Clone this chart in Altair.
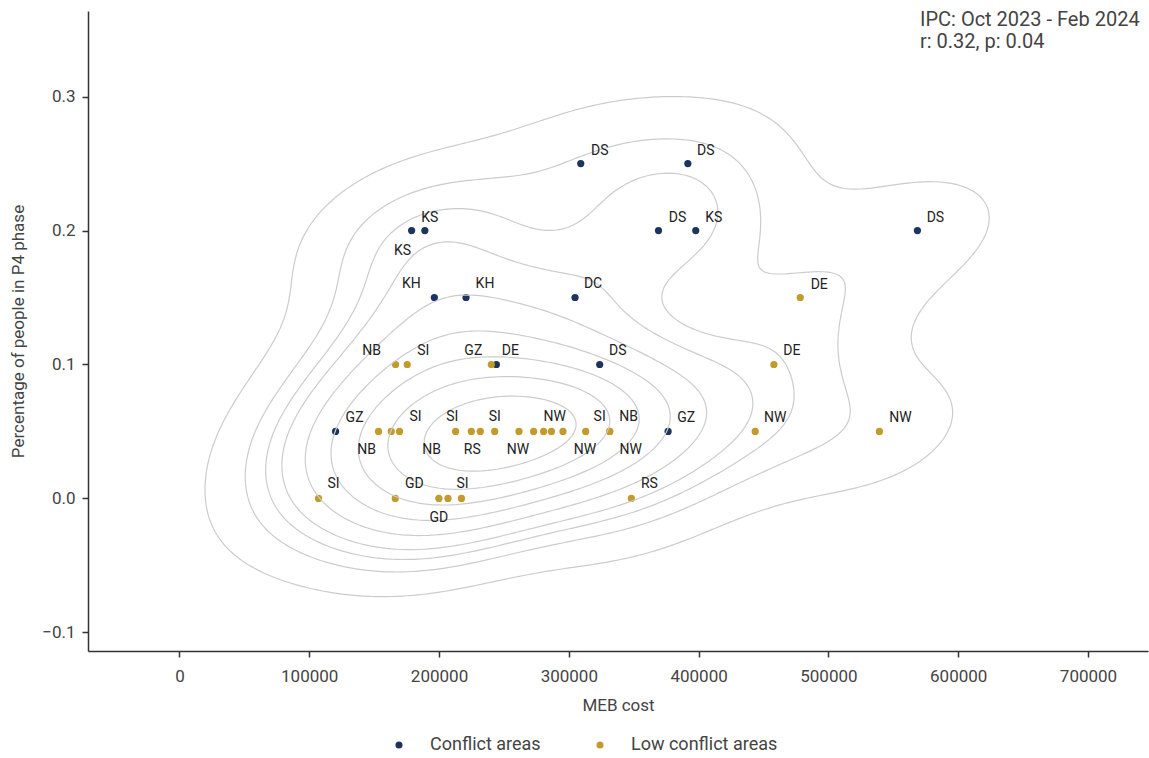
import numpy as np
import pandas as pd
import altair as alt

NAVY = "#1c355e"
GOLD = "#c29b2c"
FONT = "Roboto"

# ---- data: conflict areas -------------------------------------------------
conflict_region = ["DS", "DS", "KS", "KS", "DS", "KS", "DS",
                   "KH", "KH", "DC", "DE", "DS", "GZ", "GZ"]
conflict_meb = [309200, 391700, 178900, 189100, 369100, 397800, 568600,
                196400, 220800, 304800, 244200, 323800, 120300, 376500]
conflict_p4 = [0.25, 0.25, 0.20, 0.20, 0.20, 0.20, 0.20,
               0.15, 0.15, 0.15, 0.10, 0.10, 0.05, 0.05]

# ---- data: low conflict areas ---------------------------------------------
low_region = ["DE", "NB", "SI", "GZ", "DE",
              "NB", "SI", "SI", "NB", "SI", "RS", "SI", "NW", "NW", "NW", "NW",
              "NW", "SI", "NB", "NW", "NW", "NW",
              "SI", "GD", "GD", "GD", "SI", "RS"]
low_meb = [478300, 166500, 175500, 240300, 458000,
           153400, 163200, 169600, 212800, 224900, 231800, 242900, 261600,
           272900, 280600, 286600, 295500, 313000, 331500, 331500, 443600,
           539300,
           107200, 166300, 199900, 206900, 217300, 348200]
low_p4 = [0.15, 0.10, 0.10, 0.10, 0.10,
          0.05, 0.05, 0.05, 0.05, 0.05, 0.05, 0.05, 0.05, 0.05, 0.05, 0.05,
          0.05, 0.05, 0.05, 0.05, 0.05, 0.05,
          0.0, 0.0, 0.0, 0.0, 0.0, 0.0]

# label nudges in screen pixels (dx, dy) from the point centre; None hides it
conflict_nudge = [(19, -13), (18, -13), (-9, 20), (5, -13), (19, -13),
                  (18, -13), (18, -13), (-23, -14), (19, -14), (18, -14),
                  (14, -13), (18, -13), (19, -13), (18, -13)]
low_nudge = [(19, -13), (-24, -13), (16, -13), (-18, -13), (18, -13),
             (-12, 19), None, (16, -14), (-24, 19), (-19, -14), (-8, 19),
             (0, -14), (-1, 19), (21, -14), None, None, (22, 19), (14, -14),
             (19, -14), (21, 19), (20, -13), (21, -13),
             (15, -14), (19, -14), (0, 20), None, (1, -14), (18, -14)]

note_lines = ["IPC: Oct 2023 - Feb 2024", "r: 0.32, p: 0.04"]

GROUPS = ["Conflict areas", "Low conflict areas"]
W, H = 1060, 640

points = pd.DataFrame({
    "region": conflict_region + low_region,
    "meb": conflict_meb + low_meb,
    "p4": conflict_p4 + low_p4,
    "group": [GROUPS[0]] * len(conflict_meb) + [GROUPS[1]] * len(low_meb),
})
nudges = conflict_nudge + low_nudge

# ---- bivariate gaussian KDE (Scott bandwidth, 200x200 grid, cut=3) --------
xy = np.vstack([points["meb"].to_numpy(float), points["p4"].to_numpy(float)])
n = xy.shape[1]
factor = n ** (-1.0 / 6.0)
cov = np.cov(xy) * factor ** 2
inv = np.linalg.inv(cov)
norm = 1.0 / (2 * np.pi * np.sqrt(np.linalg.det(cov))) / n
bw = np.sqrt(np.diag(cov))
gx = np.linspace(xy[0].min() - 3 * bw[0], xy[0].max() + 3 * bw[0], 200)
gy = np.linspace(xy[1].min() - 3 * bw[1], xy[1].max() + 3 * bw[1], 200)
GX, GY = np.meshgrid(gx, gy)
grid = np.stack([GX.ravel(), GY.ravel()])
diff = grid[:, :, None] - xy[:, None, :]
q = np.einsum("imn,ij,jmn->mn", diff, inv, diff)
dens = (np.exp(-0.5 * q).sum(axis=1) * norm).reshape(GX.shape)

# iso-proportion levels, as in seaborn's kdeplot (levels=10, thresh=0.05)
iso = np.linspace(0.05, 1, 10)
vals = np.sort(dens.ravel())[::-1]
cum = np.cumsum(vals) / vals.sum()
levels = np.take(vals, np.searchsorted(cum, 1 - iso), mode="clip")


def contour_paths(Z, xs, ys, level):
    """Marching squares, returning chained polylines of (x, y)."""
    above = Z > level
    code = (above[:-1, :-1] * 1 + above[:-1, 1:] * 2 +
            above[1:, 1:] * 4 + above[1:, :-1] * 8)
    table = {1: [(0, 3)], 2: [(0, 1)], 3: [(1, 3)], 4: [(1, 2)],
             6: [(0, 2)], 7: [(2, 3)], 8: [(2, 3)], 9: [(0, 2)],
             11: [(1, 2)], 12: [(1, 3)], 13: [(0, 1)], 14: [(0, 3)]}
    adj = {}
    for i, j in np.argwhere((code > 0) & (code < 15)):
        c = int(code[i, j])
        edges = [("h", i, j), ("v", i, j + 1), ("h", i + 1, j), ("v", i, j)]
        if c in (5, 10):
            centre = (Z[i, j] + Z[i, j + 1] + Z[i + 1, j + 1] + Z[i + 1, j]) / 4
            hi = centre > level
            if c == 5:
                pairs = [(0, 1), (2, 3)] if hi else [(0, 3), (1, 2)]
            else:
                pairs = [(0, 3), (1, 2)] if hi else [(0, 1), (2, 3)]
        else:
            pairs = table[c]
        for a, b in pairs:
            ea, eb = edges[a], edges[b]
            adj.setdefault(ea, []).append(eb)
            adj.setdefault(eb, []).append(ea)

    def pos(e):
        kind, i, j = e
        if kind == "h":
            t = (level - Z[i, j]) / (Z[i, j + 1] - Z[i, j])
            return xs[j] + t * (xs[j + 1] - xs[j]), ys[i]
        t = (level - Z[i, j]) / (Z[i + 1, j] - Z[i, j])
        return xs[j], ys[i] + t * (ys[i + 1] - ys[i])

    unused = set(adj)
    starts = [e for e in adj if len(adj[e]) == 1] + list(adj)
    paths = []
    for s in starts:
        if s not in unused:
            continue
        path = [s]
        unused.discard(s)
        cur = s
        while True:
            nxt = [e for e in adj[cur] if e in unused]
            if not nxt:
                break
            cur = nxt[0]
            unused.discard(cur)
            path.append(cur)
        if len(path) > 2 and s in adj[path[-1]]:
            path.append(s)
        paths.append([pos(e) for e in path])
    return paths


rows = []
pid = 0
for lev in levels:
    for path in contour_paths(dens, gx, gy, lev):
        for k, (px, py) in enumerate(path):
            rows.append({"path": pid, "order": k, "meb": px, "p4": py})
        pid += 1
contours = pd.DataFrame(rows)

x_dom = [float(gx[0]), float(gx[-1])]
y_dom = [float(gy[0]), float(gy[-1])]

# label anchors: point position shifted by the pixel nudge
ux = (x_dom[1] - x_dom[0]) / W
uy = (y_dom[1] - y_dom[0]) / H
lab = []
for (_, r), nd in zip(points.iterrows(), nudges):
    if nd is None:
        continue
    lab.append({"region": r["region"], "lx": r["meb"] + nd[0] * ux,
                "ly": r["p4"] - nd[1] * uy})
labels = pd.DataFrame(lab)

xs = alt.Scale(domain=x_dom, nice=False, zero=False)
ys = alt.Scale(domain=y_dom, nice=False, zero=False)

scatter = alt.Chart(points).mark_circle(size=52, opacity=1).encode(
    x=alt.X("meb:Q", scale=xs, title="MEB cost",
            axis=alt.Axis(values=[0, 100000, 200000, 300000, 400000, 500000,
                                  600000, 700000], format="d",
                          labelPadding=11,
                          titleX=530, titleY=54, titleBaseline="middle")),
    y=alt.Y("p4:Q", scale=ys, title="Percentage of people in P4 phase",
            axis=alt.Axis(values=[-0.1, 0.0, 0.1, 0.2, 0.3], format=".1f",
                          labelPadding=7,
                          titleX=-70, titleY=320, titleAngle=-90,
                          titleAlign="center", titleBaseline="middle")),
    color=alt.Color("group:N",
                    scale=alt.Scale(domain=GROUPS, range=[NAVY, GOLD]),
                    legend=alt.Legend(title=None, orient="none",
                                      direction="horizontal",
                                      legendX=302, legendY=725,
                                      symbolType="circle", symbolSize=50,
                                      symbolStrokeWidth=0,
                                      labelFontSize=18, labelColor="#444",
                                      labelFont=FONT, labelOffset=22,
                                      columnPadding=50)),
)

kde = alt.Chart(contours).mark_line(color="#cccccc", strokeWidth=1.2).encode(
    x=alt.X("meb:Q", scale=xs),
    y=alt.Y("p4:Q", scale=ys),
    detail="path:N",
    order="order:Q",
)

text = alt.Chart(labels).mark_text(font=FONT, fontSize=14, color="#222",
                                   align="center", baseline="middle").encode(
    x=alt.X("lx:Q", scale=xs),
    y=alt.Y("ly:Q", scale=ys),
    text="region:N",
)

# two-line note in the top-right corner
note1 = alt.Chart(pd.DataFrame({"t": [note_lines[0]]})).mark_text(
    font=FONT, fontSize=20, color="#444", align="left",
    baseline="alphabetic").encode(x=alt.value(832), y=alt.value(15),
                                  text="t:N")
note2 = alt.Chart(pd.DataFrame({"t": [note_lines[1]]})).mark_text(
    font=FONT, fontSize=20, color="#444", align="left",
    baseline="alphabetic").encode(x=alt.value(832), y=alt.value(37),
                                  text="t:N")

chart = alt.layer(scatter, kde, text, note1, note2).properties(
    width=W, height=H,
    autosize=alt.AutoSizeParams(type="none"),
    padding={"left": 88, "top": 11, "right": 1, "bottom": 107},
    background="white",
).configure_view(stroke=None).configure_axis(
    grid=False, labelFont=FONT, titleFont=FONT, labelFontSize=17,
    titleFontSize=17, titleFontWeight="normal", labelColor="#444",
    titleColor="#444", domainColor="#333", tickColor="#333",
    domainWidth=1.5, tickWidth=1.5, tickSize=6,
)

chart.save("out.html", embed_options={"renderer": "svg", "actions": False})
